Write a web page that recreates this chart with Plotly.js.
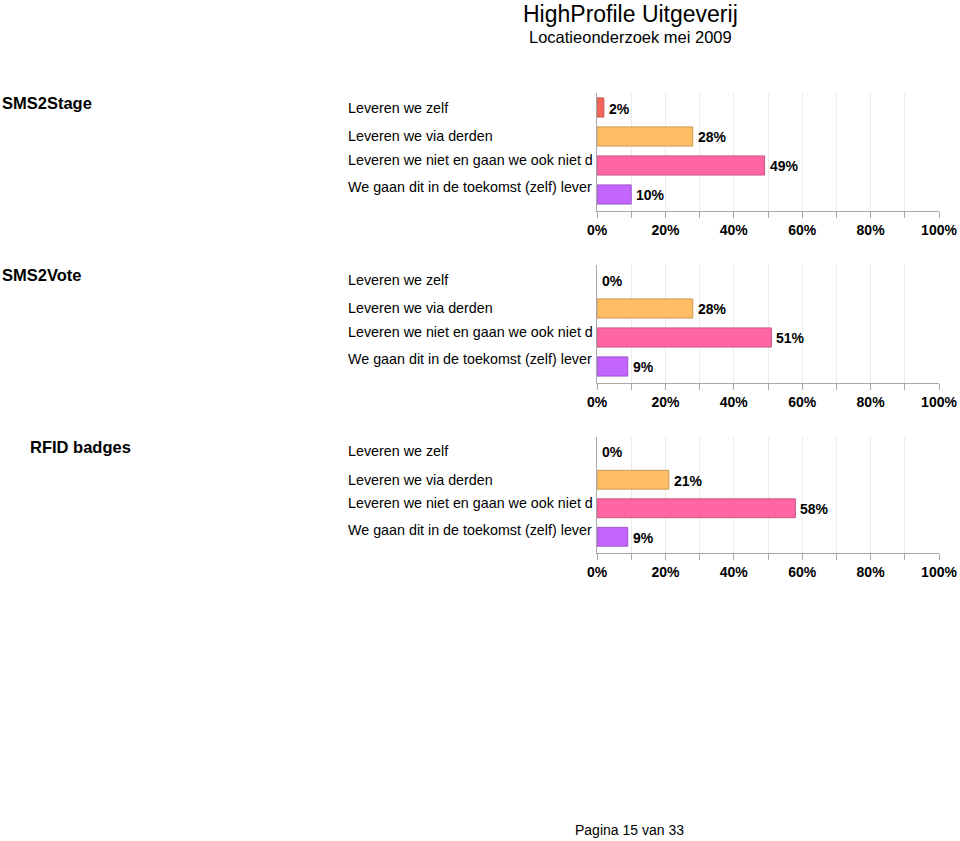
<!DOCTYPE html>
<html>
<head>
<meta charset="UTF-8">
<script src="https://cdn.plot.ly/plotly-3.0.1.min.js"></script>
<style>
body { margin: 0; padding: 0; background: #fff; }
#plot { width: 960px; height: 841px; }
</style>
</head>
<body>
<div id="plot"></div>
<script>
// answer categories, same for all three questions
var categories = [
	'Leveren we zelf',
	'Leveren we via derden',
	'Leveren we niet en gaan we ook niet d',
	'We gaan dit in de toekomst (zelf) lever'
];
var sectionNames = ['SMS2Stage', 'SMS2Vote', 'RFID badges'];
var sms2stage = [2, 28, 49, 10];
var sms2vote = [0, 28, 51, 9];
var rfidBadges = [0, 21, 58, 9];
var tickVals = [0, 20, 40, 60, 80, 100];
var tickText = ['0%', '20%', '40%', '60%', '80%', '100%'];

var barColors = ['#F2665C', '#FFBE66', '#FF66A3', '#C266FF'];
var barLines = ['#c4564e', '#c99a55', '#c85683', '#9b55cc'];

var FONT = 'Liberation Sans, Arial, sans-serif';
var W = 960, H = 841;

// pixel layout of each block: top of plot area, bottom axis line, title position
var blocks = [
	{ top: 93, bottom: 211, titleY: 103, titleX: 0 },
	{ top: 265, bottom: 383, titleY: 275, titleX: 0 },
	{ top: 437, bottom: 553, titleY: 447, titleX: 28 }
];
var labelShift = [0, 0, 5, 7];
var allValues = [sms2stage, sms2vote, rfidBadges];

function py(pixel)
{
	return 1 - pixel / H;
}

var data = [];
var annotations = [];
var layout = {
	width: W,
	height: H,
	margin: { l: 0, r: 0, t: 0, b: 0 },
	paper_bgcolor: '#ffffff',
	plot_bgcolor: '#ffffff',
	showlegend: false,
	font: { family: FONT, color: '#000' },
	bargap: 0.34
};

for (var i = 0; i < blocks.length; i++)
{
	var b = blocks[i];
	var n = i + 1;
	var xa = n == 1 ? 'x' : 'x' + n;
	var ya = n == 1 ? 'y' : 'y' + n;
	var xKey = n == 1 ? 'xaxis' : 'xaxis' + n;
	var yKey = n == 1 ? 'yaxis' : 'yaxis' + n;

	// no outline for empty bars
	var lineWidths = allValues[i].map(function(v) { return v > 0 ? 1 : 0; });

	data.push({
		type: 'bar',
		orientation: 'h',
		x: allValues[i],
		y: categories,
		xaxis: xa,
		yaxis: ya,
		marker: { color: barColors, line: { color: barLines, width: lineWidths } },
		hoverinfo: 'x+y'
	});

	layout[xKey] = {
		domain: [597 / W, 939 / W],
		anchor: ya,
		range: [0, 100],
		tickvals: tickVals,
		ticktext: tickText,
		ticks: 'outside',
		ticklen: 6,
		tickcolor: '#a8a8a8',
		tickfont: { family: FONT, size: 14, color: '#000', weight: 'bold' },
		showline: true,
		linecolor: '#a8a8a8',
		showgrid: true,
		gridcolor: '#ebebeb',
		minor: { dtick: 10, tick0: 0, ticks: 'outside', ticklen: 6, tickcolor: '#a8a8a8', showgrid: true, gridcolor: '#ebebeb' },
		zeroline: false,
		fixedrange: true
	};
	layout[yKey] = {
		domain: [py(b.bottom), py(b.top)],
		anchor: xa,
		type: 'category',
		categoryarray: categories,
		range: [3.57, -0.5],
		showticklabels: false,
		ticks: '',
		showline: true,
		linecolor: '#a8a8a8',
		showgrid: false,
		zeroline: false,
		fixedrange: true
	};

	// section title
	annotations.push({
		xref: 'paper', yref: 'paper',
		x: b.titleX / W, y: py(b.titleY),
		xanchor: 'left', yanchor: 'middle',
		text: '<b>' + sectionNames[i] + '</b>',
		showarrow: false,
		font: { family: FONT, size: 16.5, color: '#000' }
	});

	for (var c = 0; c < categories.length; c++)
	{
		// category label, left aligned
		annotations.push({
			xref: 'paper', yref: ya,
			x: 346 / W, y: categories[c],
			xanchor: 'left', yanchor: 'middle',
			yshift: labelShift[c],
			text: categories[c],
			showarrow: false,
			font: { family: FONT, size: 14.3, color: '#000' }
		});
		// value label right of bar
		annotations.push({
			xref: xa, yref: ya,
			x: allValues[i][c], y: categories[c],
			xanchor: 'left', yanchor: 'middle',
			xshift: 3, yshift: -1,
			text: '<b>' + allValues[i][c] + '%</b>',
			showarrow: false,
			font: { family: FONT, size: 14, color: '#000' }
		});
	}
}

// page header (two lines in one block) and footer
annotations.push({
	xref: 'paper', yref: 'paper', x: 630 / W, y: 1,
	xanchor: 'center', yanchor: 'top',
	text: '<span style="font-size:23px">HighProfile Uitgeverij</span><br>Locatieonderzoek mei 2009',
	showarrow: false, borderpad: 0,
	font: { family: FONT, size: 16.5, color: '#000' }
});
annotations.push({
	xref: 'paper', yref: 'paper', x: 629 / W, y: py(830),
	xanchor: 'center', yanchor: 'middle',
	text: 'Pagina 15 van 33', showarrow: false,
	font: { family: FONT, size: 14, color: '#000' }
});

layout.annotations = annotations;

Plotly.newPlot('plot', data, layout, { displayModeBar: false, staticPlot: true });
</script>
</body>
</html>
